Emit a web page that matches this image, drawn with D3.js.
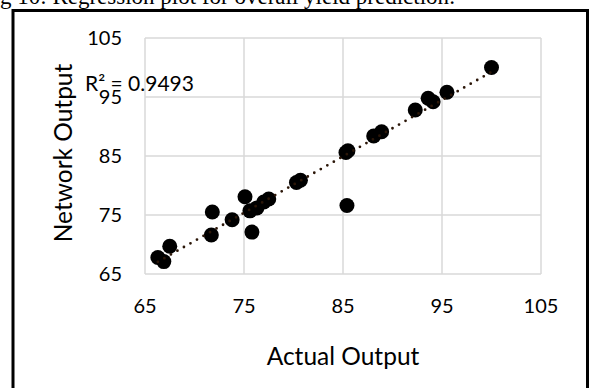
<!DOCTYPE html>
<html lang="en">
<head>
    <meta charset="UTF-8">
    <title>Regression plot</title>
    <script src="https://d3js.org/d3.v7.min.js"></script>
    <style>
        body { margin: 0; background: #fff; }
        svg { display: block; }
        .tick-label { font-family: Lato, "Open Sans", sans-serif; font-size: 20px; fill: #000; }
        .axis-title { font-family: Lato, "Open Sans", sans-serif; font-size: 24.5px; fill: #000; }
        .caption { font-family: "Liberation Serif", "DejaVu Serif", serif; font-size: 23px; fill: #000; }
    </style>
</head>
<body>
<script>
    // values
    const actualOutput = [66.3, 66.9, 67.5, 71.7, 71.8, 73.8, 75.1, 75.8, 75.6, 76.3, 77.0, 77.5,
        80.3, 80.7, 85.3, 85.5, 85.4, 88.1, 88.9, 92.3, 93.6, 94.1, 95.5, 100.0];
    const networkOutput = [67.8, 67.1, 69.7, 71.6, 75.5, 74.2, 78.1, 72.1, 75.7, 76.2, 77.2, 77.7,
        80.5, 80.9, 85.6, 85.9, 76.6, 88.4, 89.1, 92.8, 94.8, 94.2, 95.8, 100.0];
    const tickValues = [65, 75, 85, 95, 105];
    const rSquaredLabel = "R\u00b2 = 0.9493";
    const captionText = "g 10: Regression plot for overall yield prediction:";

    const width = 590, height = 388;
    const plot = {left: 145, right: 541, top: 38, bottom: 274};

    const svg = d3.select("body").append("svg").attr("width", width).attr("height", height);

    // cut-off caption above the frame
    svg.append("text").attr("class", "caption")
        .attr("x", 0).attr("y", 4)
        .text(captionText);

    // outer frame (runs past the bottom edge)
    svg.append("rect")
        .attr("x", 13).attr("y", 10.5)
        .attr("width", 574.5).attr("height", 400)
        .attr("fill", "none").attr("stroke", "#000").attr("stroke-width", 3);

    const x = d3.scaleLinear().domain([65, 105]).range([plot.left, plot.right]);
    const y = d3.scaleLinear().domain([65, 105]).range([plot.bottom, plot.top]);

    // gridlines
    const grid = svg.append("g").attr("stroke", "#d9d9d9").attr("stroke-width", 1.5);
    tickValues.forEach(t => {
        grid.append("line").attr("x1", x(t)).attr("x2", x(t)).attr("y1", plot.top).attr("y2", plot.bottom);
        grid.append("line").attr("x1", plot.left).attr("x2", plot.right).attr("y1", y(t)).attr("y2", y(t));
    });

    // tick labels
    svg.append("g").selectAll("text").data(tickValues).join("text")
        .attr("class", "tick-label")
        .attr("x", d => x(d)).attr("y", 313)
        .attr("text-anchor", "middle")
        .text(d => d);
    svg.append("g").selectAll("text").data(tickValues).join("text")
        .attr("class", "tick-label")
        .attr("x", 122).attr("y", d => y(d))
        .attr("dy", "0.36em")
        .attr("text-anchor", "end")
        .text(d => d);

    // axis titles
    svg.append("text").attr("class", "axis-title")
        .attr("x", (plot.left + plot.right) / 2).attr("y", 365)
        .attr("text-anchor", "middle")
        .text("Actual Output");
    svg.append("text").attr("class", "axis-title")
        .attr("transform", "translate(72," + ((plot.top + plot.bottom) / 2 - 3) + ") rotate(-90)")
        .attr("text-anchor", "middle")
        .text("Network Output");

    const points = actualOutput.map((a, i) => ({a: a, n: networkOutput[i]}));

    // markers
    svg.append("g").selectAll("circle").data(points).join("circle")
        .attr("cx", d => x(d.a)).attr("cy", d => y(d.n))
        .attr("r", 7.5).attr("fill", "#000");

    // linear trendline (least squares)
    const mx = d3.mean(actualOutput), my = d3.mean(networkOutput);
    const slope = d3.sum(points, d => (d.a - mx) * (d.n - my)) / d3.sum(points, d => (d.a - mx) * (d.a - mx));
    const icpt = my - slope * mx;
    const xr = d3.extent(actualOutput);
    svg.append("line")
        .attr("x1", x(xr[0])).attr("y1", y(icpt + slope * xr[0]))
        .attr("x2", x(xr[1])).attr("y2", y(icpt + slope * xr[1]))
        .attr("stroke", "#2b1608").attr("stroke-width", 2.8)
        .attr("stroke-linecap", "round").attr("stroke-dasharray", "0 7.5");

    // R squared label
    svg.append("text").attr("class", "tick-label")
        .attr("x", 85).attr("y", 90.5)
        .style("font-size", "21px")
        .text(rSquaredLabel);
</script>
</body>
</html>
